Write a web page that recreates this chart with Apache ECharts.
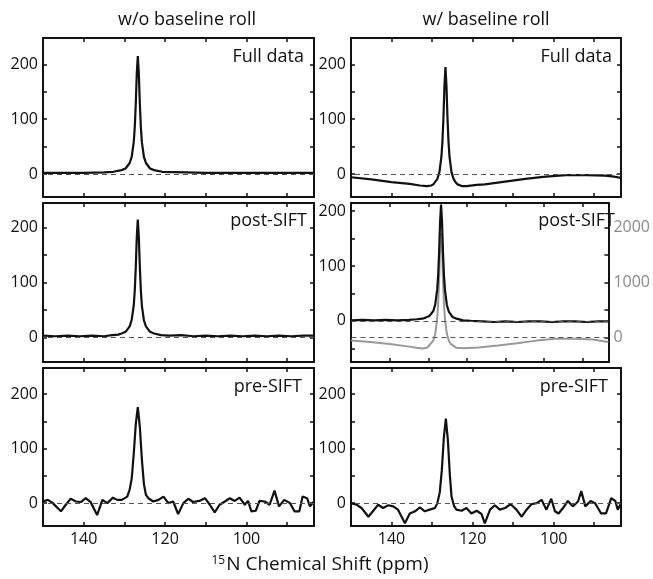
<!DOCTYPE html>
<html>
<head>
<meta charset="utf-8">
<script src="https://cdn.jsdelivr.net/npm/echarts@6/dist/echarts.min.js"></script>
<style>
html,body{margin:0;padding:0;background:#fff;}
#chart{width:653px;height:579px;}
</style>
</head>
<body>
<div id="chart"></div>
<script>
// ---------- data ----------
const columnTitles = ['w/o baseline roll', 'w/ baseline roll'];
const panelLabels = ['Full data', 'Full data', 'post-SIFT', 'post-SIFT', 'pre-SIFT', 'pre-SIFT'];
const xTickValues = [90, 100, 110, 120, 130, 140];
const xTickLabels = [100, 120, 140];
const yTickValues = [-50, 0, 50, 100, 150, 200];
const yTickLabels = [0, 100, 200];
const grayTickValues = [0, 500, 1000, 1500, 2000];
const grayTickLabels = [0, 1000, 2000];
const xAxisTitle = 'N Chemical Shift (ppm)';
const xAxisTitleSup = '15';

// Full data, no baseline roll
const fullNoRollX = [150, 145, 140, 135, 132.7, 130.7, 129.7, 128.7, 128.2, 127.7, 127.45, 127.2, 126.95, 126.7, 126.45, 126.2, 125.95, 125.7, 125.2, 124.7, 123.7, 122.7, 120.7, 115, 110, 100, 90, 83.4];
const fullNoRollY = [2, 2, 2, 3, 4, 7, 10, 20, 31, 58, 85, 128, 183, 215, 183, 128, 85, 58, 31, 20, 10, 7, 4, 3, 2, 2, 2, 2];

// Full data, with baseline roll
const fullRollX = [150, 145, 140, 135.5, 133, 131.3, 130.2, 129.7, 128.7, 128.2, 127.7, 127.45, 127.2, 126.95, 126.7, 126.45, 126.2, 125.95, 125.7, 125.2, 124.7, 124.2, 123.7, 122.7, 121.5, 119, 117, 112, 107, 102, 97, 92, 87.4, 85, 83.4];
const fullRollY = [-6, -10, -15, -18, -21, -22, -21, -19, -9, 3, 31, 59, 103, 160, 195, 160, 103, 59, 31, 3, -9, -15, -19, -22, -22, -20, -19, -14, -9, -5, -2, -2, -3, -5, -7];

// post-SIFT, no baseline roll
const postNoRollX = [150, 147, 144, 141, 138, 135, 133, 131.5, 130.7, 129.7, 128.7, 128.2, 127.7, 127.45, 127.2, 126.95, 126.7, 126.45, 126.2, 125.95, 125.7, 125.2, 124.7, 123.7, 122.7, 121, 119, 116, 113, 110, 107, 104, 101, 98, 95, 92, 89, 86, 83.4];
const postNoRollY = [3, 2, 3, 2, 3, 2, 4, 5, 7, 10, 20, 32, 58, 85, 128, 183, 215, 183, 128, 85, 58, 31, 20, 10, 7, 4, 3, 4, 2, 3, 2, 3, 2, 3, 2, 3, 2, 3, 3];

// post-SIFT, with baseline roll (black, left axis)
const postRollX = [150, 147, 144, 141, 138, 135, 133, 131.5, 130.7, 129.7, 128.7, 128.2, 127.7, 127.45, 127.2, 126.95, 126.7, 126.45, 126.2, 125.95, 125.7, 125.2, 124.7, 123.7, 122.7, 121, 119, 116, 113, 110, 107, 104, 101, 98, 95, 92, 89, 86, 83.4];
const postRollY = [1, 2, 1, 2, 1, 2, 3, 4, 6, 9, 18, 30, 57, 83, 125, 181, 212, 181, 125, 83, 57, 29, 17, 7, 4, 1, 0, -1, -2, -1, -2, -1, -1, -2, -1, -1, -2, -1, -1];

// full data with roll, gray, right axis
const grayRollX = [150, 145, 140, 135.4, 133, 131.5, 130.2, 129.7, 128.7, 128.2, 127.7, 127.45, 127.2, 126.95, 126.7, 126.45, 126.2, 125.95, 125.7, 125.2, 124.7, 124.2, 123.7, 122.7, 121, 117, 112, 107, 102, 97.2, 92.3, 87.4, 83.4];
const grayRollY = [-60, -85, -120, -165, -190, -205, -185, -160, -58, 64, 343, 618, 1058, 1634, 1900, 1634, 1058, 618, 343, 64, -58, -120, -155, -192, -200, -185, -150, -110, -60, -25, -25, -40, -85];

// pre-SIFT, no baseline roll
const preNoRollX = [150, 148.8, 147.6, 145.6, 144.4, 143.2, 141.9, 140.7, 139.5, 138.3, 136.7, 135.4, 134.2, 132.8, 131.8, 130.6, 129.3, 128.7, 128.2, 127.7, 127.2, 126.7, 126.2, 125.7, 125.2, 124.7, 124.1, 122.9, 121.6, 120.4, 119.2, 118.0, 116.8, 115.5, 114.3, 113.1, 111.6, 110.2, 109.0, 107.8, 106.6, 105.3, 104.1, 102.9, 101.7, 100.4, 99.6, 98.8, 97.7, 96.8, 95.5, 94.3, 93.1, 92.0, 90.7, 89.3, 88.2, 87.0, 86.2, 85.1, 84.4, 83.4];
const preNoRollY = [3, 6, 0, -15, -3, 8, 3, 2, 9, 2, -22, 6, 0, 10, 6, 6, 12, 25, 45, 90, 145, 176, 140, 80, 35, 15, 9, 3, 6, 12, 0, 3, -20, 0, 8, 2, 4, 9, -3, -17, -3, 3, 9, 4, 10, -3, 4, -15, -14, 4, 3, -3, 23, -6, 6, 0, -15, -15, 12, 9, -6, 3];

// pre-SIFT, with baseline roll
const preRollX = [150, 148.6, 147.4, 145.7, 144.5, 143.3, 142.1, 140.8, 139.6, 138.4, 136.7, 135.5, 134.2, 133.0, 131.8, 130.6, 129.3, 128.7, 128.1, 127.6, 127.1, 126.6, 126.1, 125.6, 125.2, 124.6, 124.0, 122.7, 121.5, 120.3, 119.0, 117.8, 117.0, 115.7, 114.5, 113.3, 112.0, 110.6, 109.2, 107.9, 106.7, 105.5, 104.2, 103.0, 101.8, 100.6, 99.7, 98.8, 97.7, 96.5, 95.3, 94.0, 93.2, 92.2, 90.9, 89.8, 88.3, 87.1, 85.8, 84.8, 84.2, 83.4];
const preRollY = [0, -3, -9, -25, -14, -3, -9, -4, -6, -12, -37, -19, -15, -8, -15, -12, -9, 0, 20, 60, 120, 155, 115, 50, 12, -5, -12, -14, -9, -19, -14, -20, -37, -12, -4, -12, -9, -2, -12, -25, -12, -2, 0, 6, -12, 8, -15, -19, -9, 4, -6, 3, 22, -6, 4, 0, -19, -19, 9, 4, -12, 0];

// ---------- chart ----------
const FONT = '"Open Sans", "Noto Sans", sans-serif';
const INK = '#111';
const TXT = '#111';
const GRAY = '#999';
const zip = (xs, ys) => xs.map((x, i) => [x, ys[i]]);

const panels = [
  { x: fullNoRollX, y: fullNoRollY, ymin: -42, ymax: 248 },
  { x: fullRollX, y: fullRollY, ymin: -42, ymax: 248 },
  { x: postNoRollX, y: postNoRollY, ymin: -45, ymax: 245 },
  { x: postRollX, y: postRollY, ymin: -75, ymax: 215, gray: { x: grayRollX, y: grayRollY, min: -450, max: 2450 } },
  { x: preNoRollX, y: preNoRollY, ymin: -42, ymax: 248 },
  { x: preRollX, y: preRollY, ymin: -42, ymax: 248 }
];

const layout = [
  { left: 43, top: 38, width: 271, height: 159 },
  { left: 351, top: 38, width: 270, height: 159 },
  { left: 43, top: 203, width: 271, height: 159 },
  { left: 351, top: 203, width: 270, height: 159 },
  { left: 43, top: 368, width: 271, height: 158 },
  { left: 351, top: 368, width: 270, height: 158 }
];

const grid = [], xAxis = [], yAxis = [], series = [];
const axisLine = { show: true, onZero: false, lineStyle: { color: INK, width: 2 } };

panels.forEach((p, i) => {
  grid.push(Object.assign({ containLabel: false }, layout[i]));
  const bottomRow = i >= 4;
  ['bottom', 'top'].forEach((pos) => {
    xAxis.push({
      type: 'value', gridIndex: i, position: pos, min: 83.4, max: 150, inverse: true,
      axisLine: axisLine,
      axisTick: { show: true, inside: true, length: 4, customValues: xTickValues, lineStyle: { color: INK, width: 1.5 } },
      axisLabel: { show: pos === 'bottom' && bottomRow, customValues: xTickLabels, fontSize: 16, color: TXT, fontFamily: FONT, margin: 5,
        formatter: (v) => String(v) },
      splitLine: { show: false }
    });
  });
  ['left', 'right'].forEach((pos) => {
    const isGray = pos === 'right' && p.gray;
    yAxis.push({
      type: 'value', gridIndex: i, position: pos,
      min: isGray ? p.gray.min : p.ymin, max: isGray ? p.gray.max : p.ymax,
      axisLine: axisLine,
      axisTick: { show: true, inside: true, length: 4, customValues: isGray ? grayTickValues : yTickValues, lineStyle: { color: INK, width: 1.5 } },
      axisLabel: { show: pos === 'left' || !!isGray, customValues: isGray ? grayTickLabels : yTickLabels, fontSize: 16,
        color: isGray ? '#8a8a8a' : TXT, fontFamily: FONT, margin: 5, formatter: (v) => String(v) },
      splitLine: { show: false }
    });
  });
  const dashed = (yIdx) => ({
    type: 'line', xAxisIndex: 2 * i, yAxisIndex: yIdx, data: [], z: 1, silent: true,
    markLine: { silent: true, symbol: 'none', animation: false, label: { show: false },
      lineStyle: { type: [5, 4], color: '#555', width: 1 }, data: [{ yAxis: 0 }] }
  });
  series.push(dashed(2 * i));
  if (p.gray) {
    series.push(dashed(2 * i + 1));
    series.push({ type: 'line', xAxisIndex: 2 * i, yAxisIndex: 2 * i + 1, data: zip(p.gray.x, p.gray.y),
      showSymbol: false, symbol: 'none', z: 2, lineStyle: { color: GRAY, width: 2 } });
  }
  series.push({ type: 'line', xAxisIndex: 2 * i, yAxisIndex: 2 * i, data: zip(p.x, p.y),
    showSymbol: false, symbol: 'none', z: 3, lineStyle: { color: INK, width: 2.2 } });
});

const labelPos = [
  { x: 304, y: 57 }, { x: 612, y: 57 },
  { x: 307, y: 221 }, { x: 615, y: 221 },
  { x: 302, y: 387 }, { x: 608, y: 387 }
];
const graphic = [
  { type: 'text', x: 187, y: 20, style: { text: columnTitles[0], font: '18px ' + FONT, fill: TXT, align: 'center', verticalAlign: 'middle' } },
  { type: 'text', x: 486, y: 20, style: { text: columnTitles[1], font: '18px ' + FONT, fill: TXT, align: 'center', verticalAlign: 'middle' } },
  { type: 'text', x: 320, y: 565, style: {
      text: '{sup|' + xAxisTitleSup + '}{main|' + xAxisTitle + '}', align: 'center', verticalAlign: 'middle', fill: TXT,
      rich: { sup: { fontSize: 12, fontFamily: FONT, fill: TXT, verticalAlign: 'top', padding: [0, 1, 9, 0] },
              main: { fontSize: 19, fontFamily: FONT, fill: TXT } } } }
];
panelLabels.forEach((t, i) => {
  graphic.push({ type: 'text', x: labelPos[i].x, y: labelPos[i].y,
    style: { text: t, font: '18px ' + FONT, fill: TXT, align: 'right', verticalAlign: 'middle' } });
});

const chart = echarts.init(document.getElementById('chart'), null, { renderer: 'canvas' });
chart.setOption({ animation: false, backgroundColor: '#fff', grid, xAxis, yAxis, series, graphic });
</script>
</body>
</html>
